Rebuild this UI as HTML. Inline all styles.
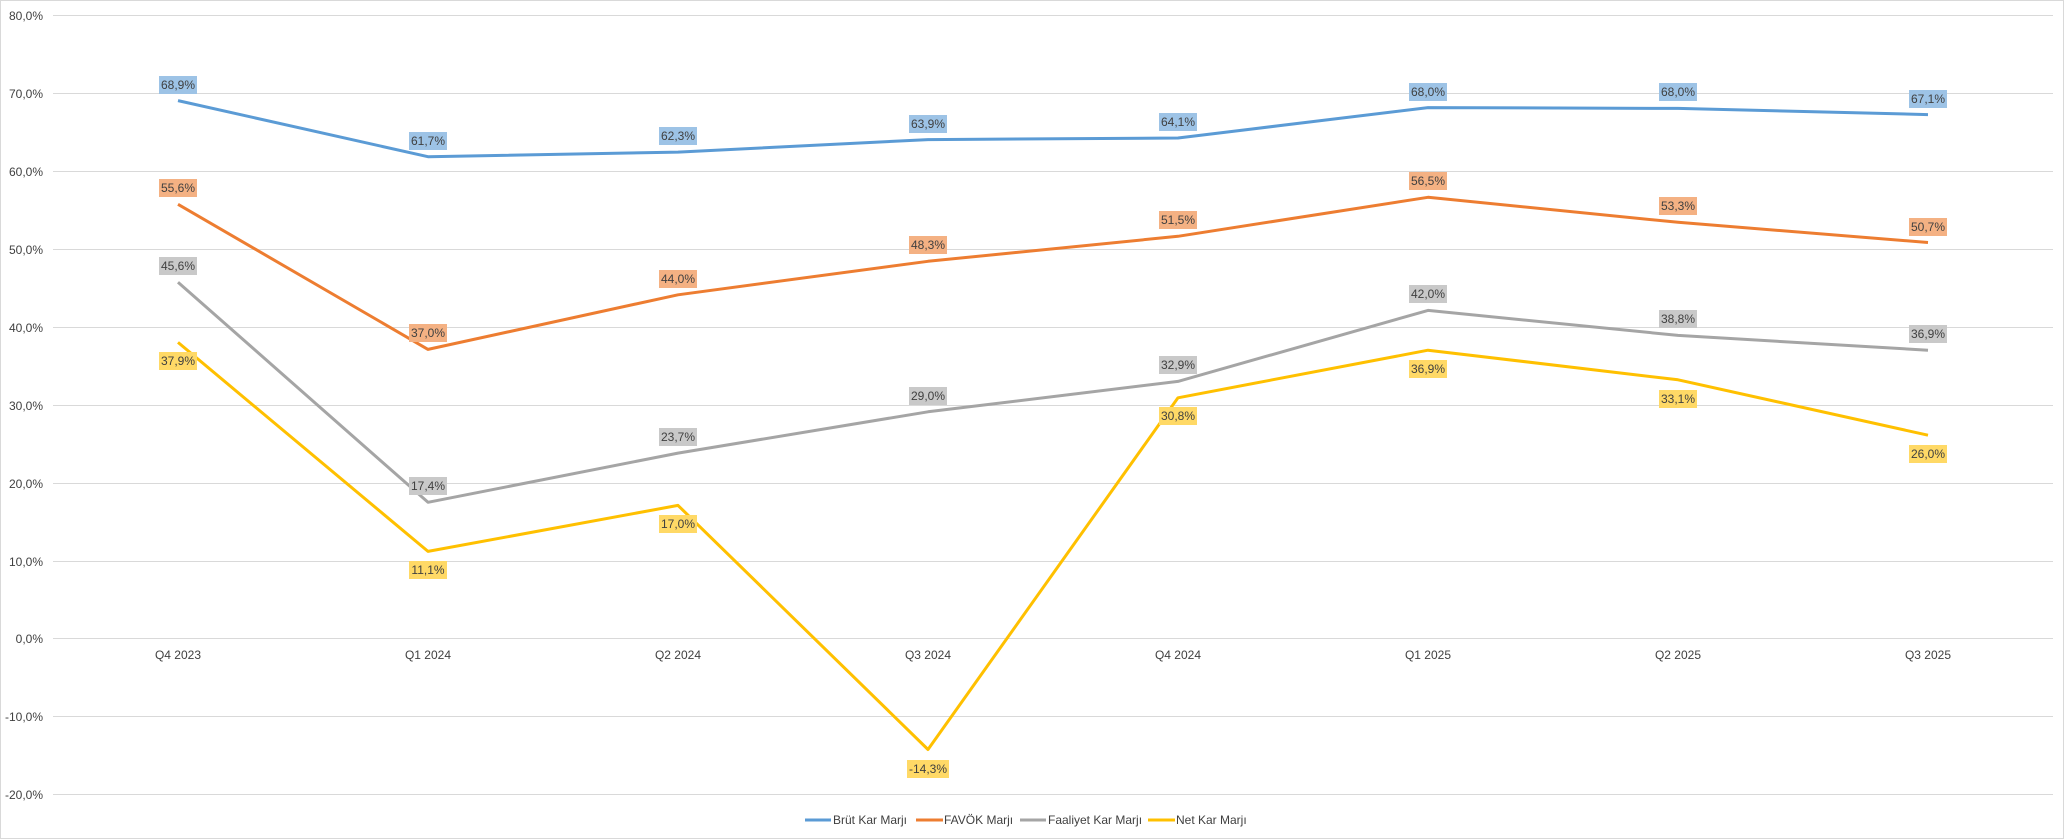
<!DOCTYPE html>
<html><head><meta charset="utf-8"><style>
html,body{margin:0;padding:0;background:#fff}
svg{display:block;font-family:"Liberation Sans",sans-serif}
text{font-size:12px;fill:#404040}
</style></head><body>
<svg width="2067" height="840" viewBox="0 0 2067 840" xmlns="http://www.w3.org/2000/svg">
<rect x="0.5" y="0.5" width="2063" height="838" fill="#fff" stroke="#d9d9d9"/>
<g stroke="#d9d9d9" stroke-width="1">
<line x1="53" x2="2053" y1="15.5" y2="15.5"/>
<line x1="53" x2="2053" y1="93.5" y2="93.5"/>
<line x1="53" x2="2053" y1="171.5" y2="171.5"/>
<line x1="53" x2="2053" y1="249.5" y2="249.5"/>
<line x1="53" x2="2053" y1="327.5" y2="327.5"/>
<line x1="53" x2="2053" y1="405.5" y2="405.5"/>
<line x1="53" x2="2053" y1="483.5" y2="483.5"/>
<line x1="53" x2="2053" y1="561.5" y2="561.5"/>
<line x1="53" x2="2053" y1="638.5" y2="638.5"/>
<line x1="53" x2="2053" y1="716.5" y2="716.5"/>
<line x1="53" x2="2053" y1="794.5" y2="794.5"/>
</g>
<g text-anchor="end">
<text x="43" y="20">80,0%</text><text x="43" y="98">70,0%</text><text x="43" y="176">60,0%</text>
<text x="43" y="254">50,0%</text><text x="43" y="332">40,0%</text><text x="43" y="410">30,0%</text>
<text x="43" y="488">20,0%</text><text x="43" y="566">10,0%</text><text x="43" y="643">0,0%</text>
<text x="43" y="721">-10,0%</text><text x="43" y="799">-20,0%</text>
</g>
<g text-anchor="middle">
<text x="178" y="659">Q4 2023</text><text x="428" y="659">Q1 2024</text><text x="678" y="659">Q2 2024</text><text x="928" y="659">Q3 2024</text>
<text x="1178" y="659">Q4 2024</text><text x="1428" y="659">Q1 2025</text><text x="1678" y="659">Q2 2025</text><text x="1928" y="659">Q3 2025</text>
</g>
<g fill="none" stroke-width="3" stroke-linejoin="round">
<polyline stroke="#5B9BD5" points="178,100.6 428,156.7 678,152.1 928,139.6 1178,138 1428,107.6 1678,108.4 1928,114.6"/>
<polyline stroke="#ED7D31" points="178,204.3 428,349.4 678,294.8 928,261.3 1178,236.3 1428,197.3 1678,222.3 1928,242.5"/>
<polyline stroke="#A5A5A5" points="178,282.3 428,502.3 678,453.1 928,411.8 1178,381.4 1428,310.4 1678,335.4 1928,350.2"/>
<polyline stroke="#FFC000" points="178,342.4 428,551.4 678,505.4 928,749.5 1178,397.8 1428,350.2 1678,379.8 1928,435.2"/>
</g>
<g text-anchor="middle">
<!-- blue -->
<g><rect x="159" y="76" width="38" height="18" fill="#9DC3E6"/><text x="178" y="89">68,9%</text></g>
<g><rect x="409" y="132" width="38" height="18" fill="#9DC3E6"/><text x="428" y="145">61,7%</text></g>
<g><rect x="659" y="127" width="38" height="18" fill="#9DC3E6"/><text x="678" y="140">62,3%</text></g>
<g><rect x="909" y="115" width="38" height="18" fill="#9DC3E6"/><text x="928" y="128">63,9%</text></g>
<g><rect x="1159" y="113" width="38" height="18" fill="#9DC3E6"/><text x="1178" y="126">64,1%</text></g>
<g><rect x="1409" y="83" width="38" height="18" fill="#9DC3E6"/><text x="1428" y="96">68,0%</text></g>
<g><rect x="1659" y="83" width="38" height="18" fill="#9DC3E6"/><text x="1678" y="96">68,0%</text></g>
<g><rect x="1909" y="90" width="38" height="18" fill="#9DC3E6"/><text x="1928" y="103">67,1%</text></g>
<!-- orange -->
<g><rect x="159" y="179" width="38" height="18" fill="#F4B183"/><text x="178" y="192">55,6%</text></g>
<g><rect x="409" y="324" width="38" height="18" fill="#F4B183"/><text x="428" y="337">37,0%</text></g>
<g><rect x="659" y="270" width="38" height="18" fill="#F4B183"/><text x="678" y="283">44,0%</text></g>
<g><rect x="909" y="236" width="38" height="18" fill="#F4B183"/><text x="928" y="249">48,3%</text></g>
<g><rect x="1159" y="211" width="38" height="18" fill="#F4B183"/><text x="1178" y="224">51,5%</text></g>
<g><rect x="1409" y="172" width="38" height="18" fill="#F4B183"/><text x="1428" y="185">56,5%</text></g>
<g><rect x="1659" y="197" width="38" height="18" fill="#F4B183"/><text x="1678" y="210">53,3%</text></g>
<g><rect x="1909" y="218" width="38" height="18" fill="#F4B183"/><text x="1928" y="231">50,7%</text></g>
<!-- gray -->
<g><rect x="159" y="257" width="38" height="18" fill="#C9C9C9"/><text x="178" y="270">45,6%</text></g>
<g><rect x="409" y="477" width="38" height="18" fill="#C9C9C9"/><text x="428" y="490">17,4%</text></g>
<g><rect x="659" y="428" width="38" height="18" fill="#C9C9C9"/><text x="678" y="441">23,7%</text></g>
<g><rect x="909" y="387" width="38" height="18" fill="#C9C9C9"/><text x="928" y="400">29,0%</text></g>
<g><rect x="1159" y="356" width="38" height="18" fill="#C9C9C9"/><text x="1178" y="369">32,9%</text></g>
<g><rect x="1409" y="285" width="38" height="18" fill="#C9C9C9"/><text x="1428" y="298">42,0%</text></g>
<g><rect x="1659" y="310" width="38" height="18" fill="#C9C9C9"/><text x="1678" y="323">38,8%</text></g>
<g><rect x="1909" y="325" width="38" height="18" fill="#C9C9C9"/><text x="1928" y="338">36,9%</text></g>
<!-- yellow -->
<g><rect x="159" y="352" width="38" height="18" fill="#FFD966"/><text x="178" y="365">37,9%</text></g>
<g><rect x="409" y="561" width="38" height="18" fill="#FFD966"/><text x="428" y="574">11,1%</text></g>
<g><rect x="659" y="515" width="38" height="18" fill="#FFD966"/><text x="678" y="528">17,0%</text></g>
<g><rect x="907" y="760" width="42" height="18" fill="#FFD966"/><text x="928" y="773">-14,3%</text></g>
<g><rect x="1159" y="407" width="38" height="18" fill="#FFD966"/><text x="1178" y="420">30,8%</text></g>
<g><rect x="1409" y="360" width="38" height="18" fill="#FFD966"/><text x="1428" y="373">36,9%</text></g>
<g><rect x="1659" y="390" width="38" height="18" fill="#FFD966"/><text x="1678" y="403">33,1%</text></g>
<g><rect x="1909" y="445" width="38" height="18" fill="#FFD966"/><text x="1928" y="458">26,0%</text></g>
</g>
<g stroke-width="3">
<line x1="805" x2="831" y1="820" y2="820" stroke="#5B9BD5"/>
<line x1="916" x2="943" y1="820" y2="820" stroke="#ED7D31"/>
<line x1="1020" x2="1046" y1="820" y2="820" stroke="#A5A5A5"/>
<line x1="1148" x2="1175" y1="820" y2="820" stroke="#FFC000"/>
</g>
<text x="833" y="824">Brüt Kar Marjı</text>
<text x="944" y="824">FAVÖK Marjı</text>
<text x="1048" y="824">Faaliyet Kar Marjı</text>
<text x="1176" y="824">Net Kar Marjı</text>
</svg>
</body></html>
